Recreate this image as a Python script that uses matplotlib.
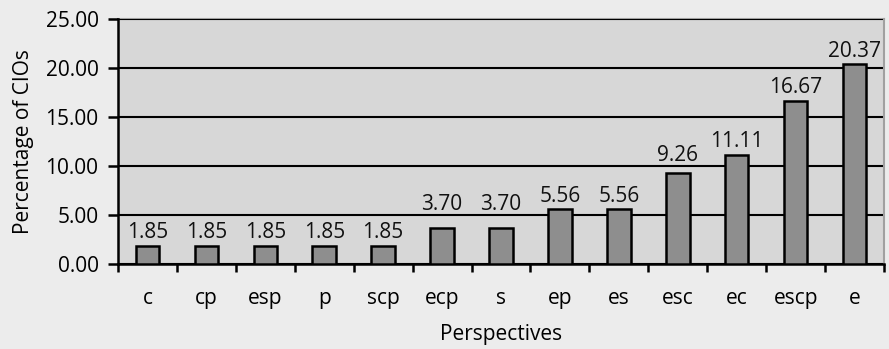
import matplotlib.pyplot as plt
import numpy as np

plt.rcParams['font.family'] = ['Open Sans', 'DejaVu Sans']

categories = ['c', 'cp', 'esp', 'p', 'scp', 'ecp', 's', 'ep', 'es', 'esc', 'ec', 'escp', 'e']
values = [1.85, 1.85, 1.85, 1.85, 1.85, 3.70, 3.70, 5.56, 5.56, 9.26, 11.11, 16.67, 20.37]
yticks = [0, 5, 10, 15, 20, 25]

FS = 15
# labels lifted clear of the gridline just above their bar
lift = {'ecp': 7, 's': 7, 'esc': 3.5}

fig = plt.figure(figsize=(8.89, 3.49), dpi=100, facecolor='#ececec')
ax = fig.add_axes([0.1327, 0.2436, 0.8617, 0.702])
ax.set_facecolor('#d7d7d7')

x = np.arange(len(categories))
ax.bar(x, values, width=0.4, color='#8e8e8e', edgecolor='black', linewidth=1.8, zorder=3)

for xi, cat, v in zip(x, categories, values):
    ax.annotate(f'{v:.2f}', (xi, v), xytext=(0, 2 + lift.get(cat, 0)), textcoords='offset points',
                ha='center', va='bottom', fontsize=FS, color='#111111', zorder=4)

ax.set_xlim(-0.5, len(categories) - 0.5)
ax.set_ylim(0, 25)
ax.set_yticks(yticks)
ax.set_yticklabels([f'{t:.2f}' for t in yticks])
ax.yaxis.grid(True, color='black', linewidth=1.5, zorder=1)
ax.set_axisbelow(True)

# category labels centred, tick marks between categories
ax.set_xticks(x)
ax.set_xticklabels(categories)
ax.set_xticks(np.arange(len(categories) + 1) - 0.5, minor=True)
ax.tick_params(axis='x', which='major', length=0, pad=17, labelsize=FS)
ax.tick_params(axis='x', which='minor', length=6, width=1.8, direction='out', color='black')
ax.tick_params(axis='y', length=7, width=1.8, direction='out', labelsize=FS, pad=7)

for side in ['top', 'right']:
    ax.spines[side].set_color('#a0a0a0')
    ax.spines[side].set_linewidth(1.5)
for side in ['left', 'bottom']:
    ax.spines[side].set_color('black')
    ax.spines[side].set_linewidth(1.8)
ax.spines['top'].set_zorder(0.5)

ax.set_xlabel('Perspectives', fontsize=FS, labelpad=11)
ax.set_ylabel('Percentage of CIOs', fontsize=FS, labelpad=8)

fig.savefig('out.png', dpi=100, facecolor=fig.get_facecolor())
